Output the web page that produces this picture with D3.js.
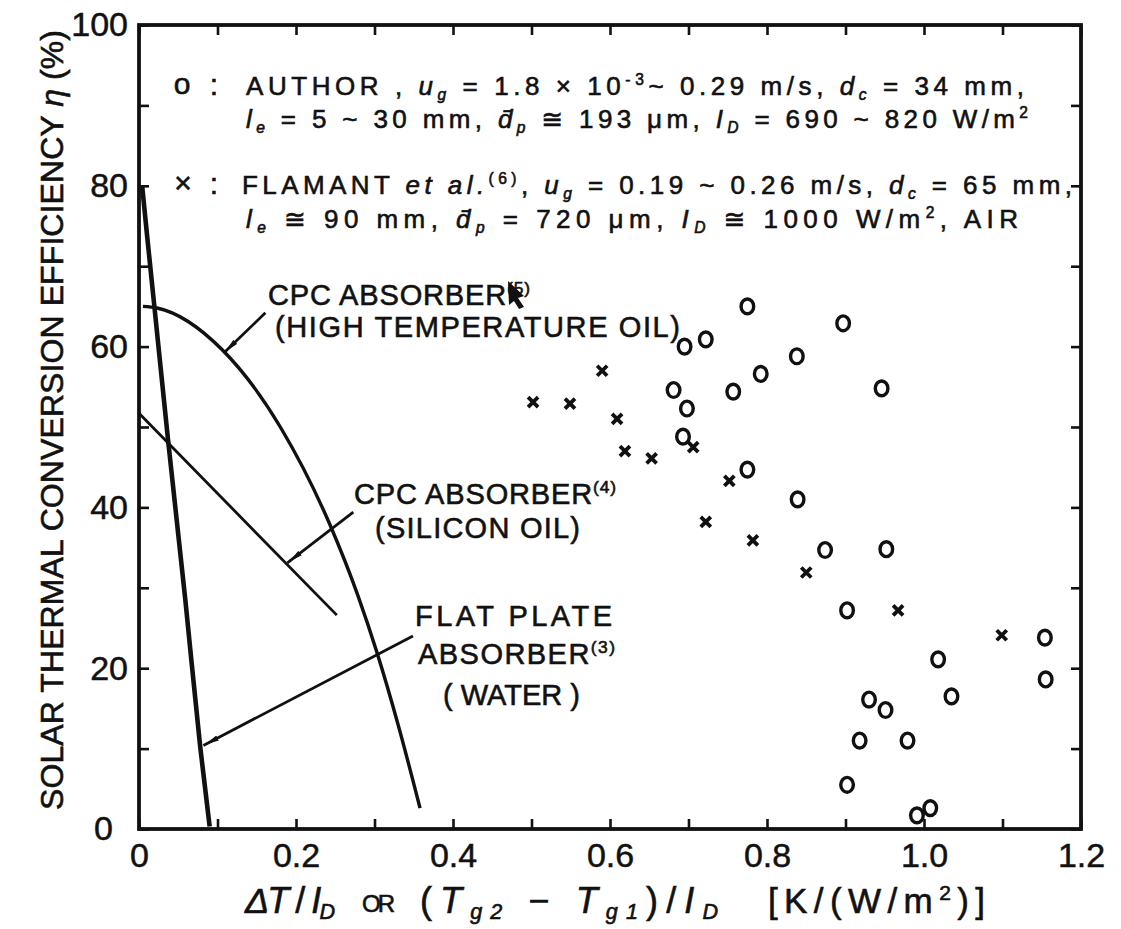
<!DOCTYPE html>
<html lang="en">
<head>
<meta charset="utf-8">
<title>Solar thermal conversion efficiency</title>
<script src="https://d3js.org/d3.v7.min.js"></script>
<style>
  body { margin: 0; background: #fff; }
  svg text { fill: #111; }
</style>
</head>
<body>
<div id="chart"></div>
<script>
// values: x = dT/I_D [K/(W/m2)], eta = efficiency [%]
var authorX = [0.775, 0.897, 0.695, 0.722, 0.838, 0.792, 0.757, 0.681, 0.946, 0.698,
               0.693, 0.775, 0.839, 0.874, 0.952, 0.902, 0.930, 0.951, 0.918, 0.979,
               0.902, 0.991, 1.008, 1.018, 1.035, 1.154, 1.155];
var authorEta = [65.0, 62.9, 60.0, 60.9, 58.8, 56.6, 54.4, 54.6, 54.8, 52.3,
                 48.8, 44.7, 41.0, 34.7, 34.8, 27.2, 16.1, 14.8, 11.0, 11.0,
                 5.5, 1.7, 2.6, 21.1, 16.5, 23.8, 18.6];

var flamantX = [0.502, 0.549, 0.590, 0.609, 0.619, 0.653, 0.706, 0.752, 0.722, 0.782, 0.850, 0.967, 1.099];
var flamantEta = [53.1, 52.9, 57.0, 51.0, 47.0, 46.1, 47.5, 43.3, 38.2, 35.9, 31.9, 27.2, 24.1];

// reference curves
var flatPlateX = [0.004, 0.010, 0.020, 0.037, 0.059, 0.078, 0.090];
var flatPlateEta = [80, 74.1, 64.6, 48.4, 28.5, 10.2, 0.3];

var cpcOilX = [0.005, 0.023, 0.106, 0.180, 0.243, 0.279, 0.303, 0.330, 0.358];
var cpcOilEta = [65.0, 64.8, 59.6, 50.0, 37.9, 29.0, 22.0, 13.0, 2.6];

var cpcSiliconX = [0, 0.252];
var cpcSiliconEta = [51.7, 26.6];

// tick labels
var xTickValues = [0, 0.2, 0.4, 0.6, 0.8, 1.0, 1.2];
var xTickLabels = ["0", "0.2", "0.4", "0.6", "0.8", "1.0", "1.2"];
var yTickValues = [0, 20, 40, 60, 80, 100];
var yTickLabels = ["0", "20", "40", "60", "80", "100"];

var LETTER = '"Liberation Sans", "DejaVu Sans", sans-serif';
var DIGIT = '"Liberation Sans", "DejaVu Sans", sans-serif';
var INK = "#111";

var width = 1121, height = 929;
var svg = d3.select("#chart").append("svg")
    .attr("width", width)
    .attr("height", height);

var x = d3.scaleLinear().domain([0, 1.2]).range([139, 1081]);
var y = d3.scaleLinear().domain([0, 100]).range([829, 25]);

// minor ticks every 0.1 / 10 %, all pointing inward
var xMinor = d3.range(0, 13).map(function(i) { return i / 10; });
var yMinor = d3.range(0, 101, 10);

function tickAxis(axis, tx, ty) {
    var g = svg.append("g")
        .attr("transform", "translate(" + tx + "," + ty + ")")
        .call(axis.tickFormat("").tickSize(-10));
    g.select(".domain").remove();
    g.selectAll("line").attr("stroke", INK).attr("stroke-width", 2.6);
}
tickAxis(d3.axisBottom(x).tickValues(xMinor), 0, 829);
tickAxis(d3.axisTop(x).tickValues(xMinor), 0, 25);
tickAxis(d3.axisLeft(y).tickValues(yMinor), 139, 0);
tickAxis(d3.axisRight(y).tickValues(yMinor), 1081, 0);

// frame
svg.append("rect")
    .attr("x", x(0)).attr("y", y(100))
    .attr("width", x(1.2) - x(0)).attr("height", y(0) - y(100))
    .attr("fill", "none").attr("stroke", INK).attr("stroke-width", 3.8);

// tick labels
var xl = svg.append("g")
    .attr("transform", "translate(0,829)")
    .call(d3.axisBottom(x).tickValues(xTickValues)
        .tickFormat(function(d, i) { return xTickLabels[i]; })
        .tickSize(0).tickPadding(14));
xl.select(".domain").remove();
xl.selectAll("text").attr("font-family", DIGIT).attr("font-size", 34)
    .attr("fill", INK).attr("stroke", INK).attr("stroke-width", 0.5);

var yl = svg.append("g")
    .attr("transform", "translate(139,0)")
    .call(d3.axisLeft(y).tickValues(yTickValues)
        .tickFormat(function(d, i) { return yTickLabels[i]; })
        .tickSize(0).tickPadding(11));
yl.select(".domain").remove();
yl.selectAll("text").attr("font-family", DIGIT).attr("font-size", 34)
    .attr("fill", INK).attr("stroke", INK).attr("stroke-width", 0.5);
yl.selectAll("text").filter(function(d) { return d === 0; }).attr("x", -26);

// curves
function line(curve) {
    return d3.line()
        .x(function(d) { return x(d[0]); })
        .y(function(d) { return y(d[1]); })
        .curve(curve);
}

svg.append("path")
    .attr("d", line(d3.curveMonotoneX)(d3.zip(flatPlateX, flatPlateEta)))
    .attr("fill", "none").attr("stroke", INK).attr("stroke-width", 4.6);
svg.append("path")
    .attr("d", line(d3.curveMonotoneX)(d3.zip(cpcOilX, cpcOilEta)))
    .attr("fill", "none").attr("stroke", INK).attr("stroke-width", 3.4);
svg.append("path")
    .attr("d", line(d3.curveLinear)(d3.zip(cpcSiliconX, cpcSiliconEta)))
    .attr("fill", "none").attr("stroke", INK).attr("stroke-width", 2.8);

// leader lines to the curves
svg.append("defs").append("marker")
    .attr("id", "arr")
    .attr("viewBox", "0 -3 14 6")
    .attr("refX", 16).attr("refY", 0)
    .attr("markerWidth", 14).attr("markerHeight", 6)
    .attr("markerUnits", "userSpaceOnUse")
    .attr("orient", "auto")
  .append("path")
    .attr("d", "M0,-2.8L14,0L0,2.8Z")
    .attr("fill", INK);

var leaders = [
    [[0.161, 64.2], [0.108, 59.2]],
    [[0.273, 39.4], [0.189, 33.1]],
    [[0.349, 24.0], [0.082, 10.4]]
];
svg.selectAll(".leader")
    .data(leaders)
    .join("path")
    .attr("class", "leader")
    .attr("d", line(d3.curveLinear))
    .attr("fill", "none").attr("stroke", INK).attr("stroke-width", 2.8)
    .attr("marker-end", "url(#arr)");

// data points
svg.selectAll(".author")
    .data(d3.zip(authorX, authorEta))
    .join("ellipse")
    .attr("class", "author")
    .attr("cx", function(d) { return x(d[0]); })
    .attr("cy", function(d) { return y(d[1]); })
    .attr("rx", 6.3).attr("ry", 7.4)
    .attr("fill", "none").attr("stroke", INK).attr("stroke-width", 3.4);

svg.selectAll(".flamant")
    .data(d3.zip(flamantX, flamantEta))
    .join("path")
    .attr("class", "flamant")
    .attr("transform", function(d) { return "translate(" + x(d[0]) + "," + y(d[1]) + ")"; })
    .attr("d", "M-5,-5L5,5M-5,5L5,-5")
    .attr("stroke", INK).attr("stroke-width", 3.8);

// rich text helper: parts = [text, kind, size]
function rich(px, py, parts, fs, len, rotate) {
    var t = svg.append("text")
        .attr("font-family", LETTER)
        .attr("font-size", fs)
        .attr("fill", INK)
        .attr("stroke", INK).attr("stroke-width", 0.6);
    if (rotate) t.attr("transform", "translate(" + px + "," + py + ") rotate(-90)");
    else t.attr("x", px).attr("y", py);
    var shift = 0;
    parts.forEach(function(p) {
        var kind = p[1] || "n";
        var size = p[2] || fs;
        var target = 0;
        var ts = t.append("tspan").text(p[0]);
        if (kind === "i") ts.attr("font-style", "italic");
        if (kind === "sub") { target = fs * 0.18; size = fs * 0.6; ts.attr("font-style", "italic"); }
        if (kind === "sup") { target = -fs * 0.38; size = fs * 0.6; }
        ts.attr("font-size", size).attr("dy", target - shift);
        shift = target;
    });
    if (len) t.attr("textLength", len).attr("lengthAdjust", "spacing");
    return t;
}

// legend
rich(182, 94, [["o"]], 30).attr("text-anchor", "middle");
rich(214, 95, [[":"]], 30).attr("text-anchor", "middle");
rich(183, 193, [["\u00d7"]], 30).attr("text-anchor", "middle");
rich(214, 194, [[":"]], 30).attr("text-anchor", "middle");

rich(246, 95, [["AUTHOR  ,  "], ["u", "i"], ["g", "sub"], [" = 1.8 \u00d7 10"], ["-3", "sup"],
    ["~ 0.29 m/s,   "], ["d", "i"], ["c", "sub"], [" = 34 mm,"]], 26, 778);
rich(246, 128, [["l", "i"], ["e", "sub"], [" = 5 ~ 30 mm,   "], ["d\u0304", "i"], ["p", "sub"],
    [" \u2245 193 \u03bcm,   "], ["I", "i"], ["D", "sub"], [" = 690 ~ 820  W/m"], ["2", "sup"]], 26, 782);
rich(242, 194, [["FLAMANT   "], ["et al.", "i"], ["(6)", "sup"], [",  "], ["u", "i"], ["g", "sub"],
    [" = 0.19 ~ 0.26 m/s,   "], ["d", "i"], ["c", "sub"], [" = 65 mm,"]], 26, 830);
rich(246, 228, [["l", "i"], ["e", "sub"], [" \u2245 90 mm,   "], ["d\u0304", "i"], ["p", "sub"],
    [" = 720 \u03bcm,   "], ["I", "i"], ["D", "sub"], [" \u2245 1000 W/m"], ["2", "sup"], [",      AIR"]], 26, 772);

// curve labels
rich(268, 305, [["CPC  ABSORBER"], ["(5)", "sup"]], 29, 262);
rich(275, 337, [["(HIGH  TEMPERATURE  OIL)"]], 29, 405);
rich(354, 504, [["CPC  ABSORBER"], ["(4)", "sup"]], 29, 262);
rich(375, 538, [["(SILICON  OIL)"]], 29, 205);
rich(415, 626, [["FLAT  PLATE"]], 29, 197);
rich(418, 664, [["ABSORBER"], ["(3)", "sup"]], 29, 197);
rich(443, 705, [["( WATER )"]], 29, 137);

// scanned mark next to the first label
svg.append("path")
    .attr("d", "M508,281 L524,296 L518,298 L524,307 L519,309 L514,301 L509,305 Z")
    .attr("fill", INK);

// axis titles
rich(63, 810, [["SOLAR   THERMAL   CONVERSION   EFFICIENCY  "], ["\u03b7", "i"], [" (%)"]], 32, 780, true);

rich(245, 913, [["\u0394T", "i"], [" / "], ["I", "i"], ["D", "sub"]], 36, 90);
rich(362, 912, [["OR"]], 24, 33);
rich(420, 913, [["("], ["T", "i"], ["g2", "sub"], [" \u2212 "], ["T", "i"], ["g1", "sub"], [")/"],
    ["I", "i"], ["D", "sub"]], 36, 298);
rich(768, 913, [["[K/(W/m"], ["2", "sup"], [")]"]], 35, 217);
</script>
</body>
</html>
